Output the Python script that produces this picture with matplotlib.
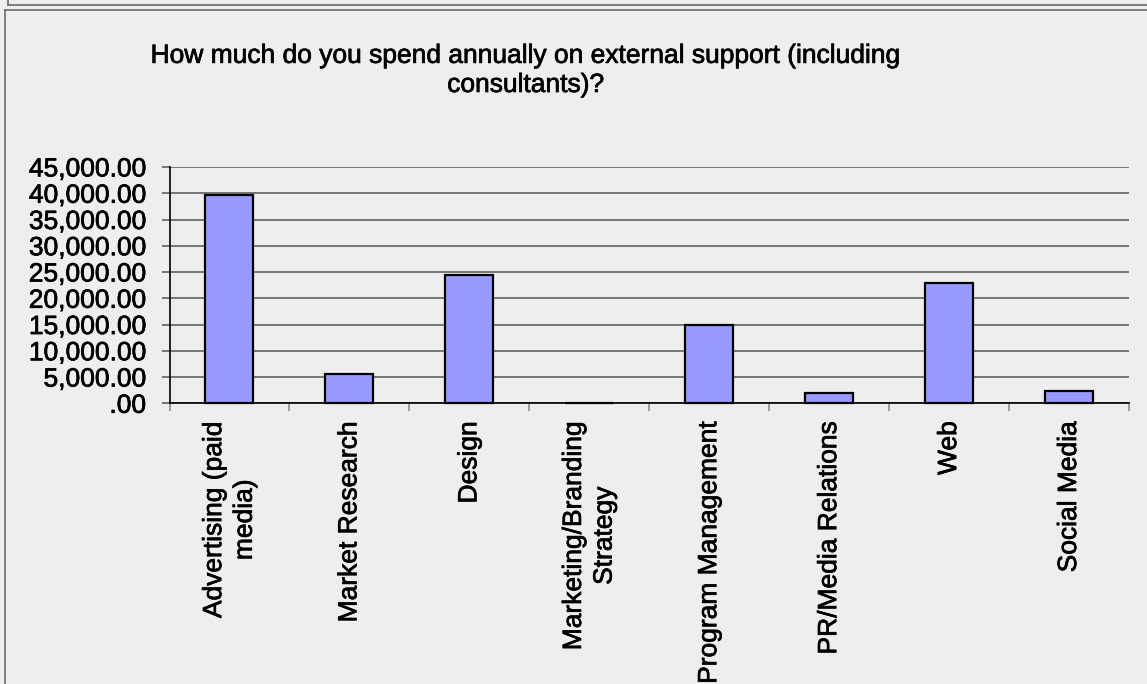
import matplotlib
matplotlib.use("Agg")
import matplotlib.pyplot as plt
import matplotlib.patheffects as pe
from matplotlib.lines import Line2D
from matplotlib.ticker import FuncFormatter, MultipleLocator

# Annual spend on external support, by service category
categories = [
    "Advertising (paid\nmedia)",
    "Market Research",
    "Design",
    "Marketing/Branding\nStrategy",
    "Program Management",
    "PR/Media Relations",
    "Web",
    "Social Media",
]
spend = [39700, 5500, 24450, 100, 15000, 2000, 23000, 2300]

TITLE = "How much do you spend annually on external support (including\nconsultants)?"
BG = "#eeeeee"

W, H = 1147, 684

plt.rcParams["font.family"] = ["Liberation Sans", "DejaVu Sans"]
# slightly heavier text strokes
heavy = [pe.withStroke(linewidth=0.5, foreground="black")]

fig = plt.figure(figsize=(W / 100, H / 100), dpi=100, facecolor=BG)
ax = fig.add_axes([169.5 / W, 1 - 403.3 / H, (1129 - 169.5) / W, (403.3 - 167) / H])
ax.set_facecolor(BG)

x = range(len(categories))
ax.bar(x, spend, width=0.4, color="#9999ff", edgecolor="black", linewidth=1.6,
       zorder=5, clip_on=False)

ax.set_xlim(-0.5, len(categories) - 0.5)
ax.set_ylim(0, 45000)

# y axis: thousands with two decimals, zero shown as ".00"
def money(v, pos):
    s = f"{v:,.2f}"
    return s[1:] if s.startswith("0.") else s

ax.yaxis.set_major_locator(MultipleLocator(5000))
ax.yaxis.set_major_formatter(FuncFormatter(money))
ax.yaxis.grid(True, color="#555555", linewidth=1.1, zorder=0)
ax.tick_params(axis="y", length=6, width=1.1, color="#555555", pad=11, labelsize=19)

# x axis: ticks between categories, labels turned upright
ax.set_xticks([i - 0.5 for i in range(len(categories) + 1)])
ax.set_xticklabels([])
ax.set_xticks(list(x), minor=True)
ax.set_xticklabels(categories, minor=True, rotation=90, ha="center", va="top",
                   multialignment="center", linespacing=1.35, fontsize=19)
ax.tick_params(axis="x", which="major", length=6, width=1.2, color="#909090")
ax.tick_params(axis="x", which="minor", length=0, pad=13)

for lbl in ax.get_yticklabels() + ax.get_xticklabels(minor=True):
    lbl.set_path_effects(heavy)

for side in ("top", "right"):
    ax.spines[side].set_visible(False)
for side in ("left", "bottom"):
    ax.spines[side].set_color("black")
    ax.spines[side].set_linewidth(1.2)
    ax.spines[side].set_zorder(4)

fig.text(526 / W, 1 - 92 / H, TITLE, ha="center", va="baseline",
         fontsize=19, multialignment="center", linespacing=1.27,
         path_effects=heavy)

# panel frames
frame = dict(color="#5f5f5f", linewidth=1.1, transform=fig.transFigure)
fig.add_artist(Line2D([8 / W, 8 / W], [1, 1 - 5 / H], **frame))
fig.add_artist(Line2D([8 / W, 1], [1 - 5 / H, 1 - 5 / H], **frame))
fig.add_artist(Line2D([4.5 / W, 4.5 / W], [0, 1 - 9.5 / H], **frame))
fig.add_artist(Line2D([4.5 / W, 1], [1 - 9.5 / H, 1 - 9.5 / H], **frame))

fig.savefig("out.png", dpi=100, facecolor=BG)
